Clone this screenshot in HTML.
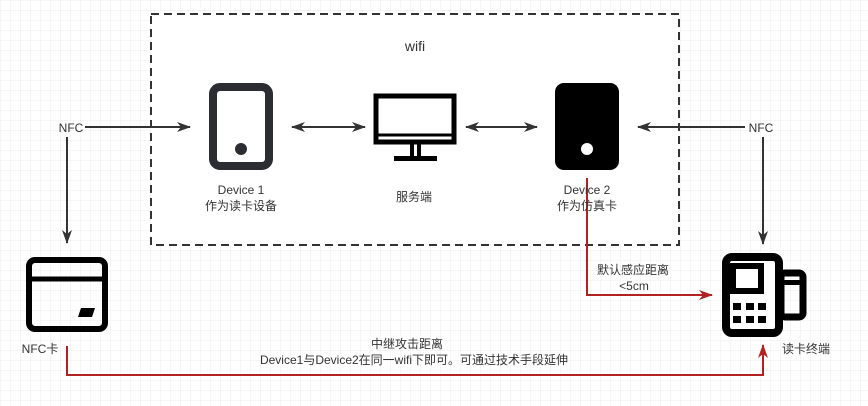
<!DOCTYPE html>
<html><head><meta charset="utf-8"><style>
html,body{margin:0;padding:0;background:#fff;}
svg{display:block;font-family:"Liberation Sans","Noto Sans CJK SC",sans-serif;}
</style></head><body>
<svg width="868" height="406" viewBox="0 0 868 406" xmlns="http://www.w3.org/2000/svg">
<defs>
<pattern id="g" width="10" height="10" patternUnits="userSpaceOnUse">
<path d="M10 0H0V10" fill="none" stroke="#ececec" stroke-width="1"/>
</pattern>
<marker id="a" markerWidth="14" markerHeight="10" refX="13" refY="5" orient="auto" markerUnits="userSpaceOnUse"><path d="M0,0 L14,5 L0,10 L4,5z" fill="#333"/></marker>
<marker id="as" markerWidth="14" markerHeight="10" refX="1" refY="5" orient="auto" markerUnits="userSpaceOnUse"><path d="M14,0 L0,5 L14,10 L10,5z" fill="#333"/></marker>
<marker id="r" markerWidth="14" markerHeight="10" refX="13" refY="5" orient="auto" markerUnits="userSpaceOnUse"><path d="M0,0 L14,5 L0,10 L4,5z" fill="#b22222"/></marker>
</defs>
<rect width="868" height="406" fill="url(#g)"/>
<rect x="151" y="14" width="528" height="231" fill="#fff" stroke="#333" stroke-width="2" stroke-dasharray="8,5"/>
<text x="415" y="51" font-size="14" fill="#333" text-anchor="middle">wifi</text>
<rect x="213" y="87" width="56" height="79" rx="7" fill="none" stroke="#2b2d33" stroke-width="8"/>
<circle cx="241" cy="149" r="6" fill="#2b2d33"/>
<rect x="376" y="96" width="78" height="46" fill="none" stroke="#000" stroke-width="5"/>
<line x1="376" y1="135" x2="454" y2="135" stroke="#000" stroke-width="3"/>
<rect x="410" y="144" width="4" height="12" fill="#000"/><rect x="417" y="144" width="4" height="12" fill="#000"/>
<rect x="394" y="156" width="43" height="5" fill="#000"/>
<rect x="555" y="83" width="64" height="87" rx="9" fill="#000"/>
<circle cx="587" cy="149" r="6" fill="#fff"/>
<rect x="29" y="260" width="76" height="69" rx="6" fill="none" stroke="#000" stroke-width="6"/>
<line x1="29" y1="279" x2="105" y2="279" stroke="#000" stroke-width="5"/>
<path d="M81,308 H95 L92,317 H78z" fill="#000"/>
<rect x="781" y="273" width="22" height="44" rx="4" fill="none" stroke="#000" stroke-width="7"/>
<rect x="781" y="280" width="20" height="5" fill="#000"/>
<rect x="726" y="257" width="53" height="76" rx="6" fill="#fff" stroke="#000" stroke-width="8"/>
<rect x="733" y="266" width="28" height="25" fill="none" stroke="#000" stroke-width="6"/>
<g fill="#000"><rect x="733" y="303" width="8" height="7"/><rect x="746" y="303" width="8" height="7"/><rect x="758" y="303" width="8" height="7"/><rect x="733" y="316" width="8" height="7"/><rect x="746" y="316" width="8" height="7"/><rect x="758" y="316" width="8" height="7"/></g>
<g stroke="#333" stroke-width="2" fill="none">
<line x1="85" y1="127" x2="190" y2="127" marker-end="url(#a)"/>
<line x1="67" y1="137" x2="67" y2="243" marker-end="url(#a)"/>
<line x1="292" y1="127" x2="365" y2="127" marker-start="url(#as)" marker-end="url(#a)"/>
<line x1="466" y1="127" x2="537" y2="127" marker-start="url(#as)" marker-end="url(#a)"/>
<line x1="745" y1="127" x2="638" y2="127" marker-end="url(#a)"/>
<line x1="763" y1="137" x2="763" y2="244" marker-end="url(#a)"/>
</g>
<g stroke="#b22222" stroke-width="2" fill="none">
<polyline points="587,178 587,295 712,295" marker-end="url(#r)"/>
<polyline points="67,346 67,375 763,375 763,345" marker-end="url(#r)"/>
</g>
<g font-size="12" fill="#333">
<text x="71" y="132" text-anchor="middle">NFC</text>
<text x="761" y="132" text-anchor="middle">NFC</text>
<text x="241" y="194" text-anchor="middle">Device 1</text>
<text x="241" y="210" text-anchor="middle">作为读卡设备</text>
<text x="414" y="201" text-anchor="middle">服务端</text>
<text x="587" y="194" text-anchor="middle">Device 2</text>
<text x="587" y="210" text-anchor="middle">作为仿真卡</text>
<text x="633" y="274" text-anchor="middle">默认感应距离</text>
<text x="634" y="290" text-anchor="middle">&lt;5cm</text>
<text x="40" y="353" text-anchor="middle">NFC卡</text>
<text x="806" y="353" text-anchor="middle">读卡终端</text>
<text x="407" y="348" text-anchor="middle">中继攻击距离</text>
<text x="414" y="364" text-anchor="middle">Device1与Device2在同一wifi下即可。可通过技术手段延伸</text>
</g>
</svg>
</body></html>
